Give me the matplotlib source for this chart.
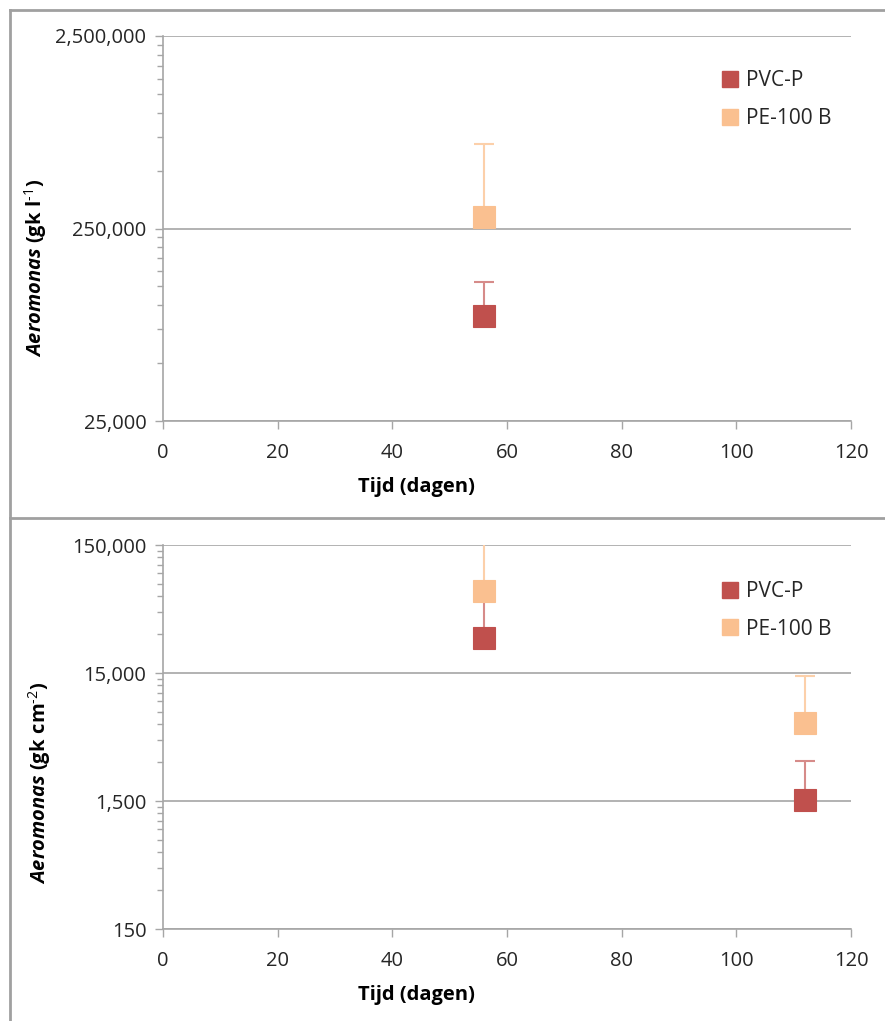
import matplotlib
matplotlib.use("Agg")
import matplotlib.pyplot as plt
from matplotlib.lines import Line2D
from matplotlib.ticker import FixedLocator, FuncFormatter, NullFormatter
import numpy as np

plt.rcParams['font.family'] = ['Open Sans', 'DejaVu Sans']
plt.rcParams['mathtext.fontset'] = 'custom'
plt.rcParams['mathtext.rm'] = 'Open Sans'
plt.rcParams['mathtext.it'] = 'Open Sans:italic'
plt.rcParams['mathtext.bf'] = 'Open Sans:bold'
plt.rcParams['mathtext.bfit'] = 'Open Sans:italic:bold'

# Aeromonas in water (gk/l), sampled at day 56
days_water = [56]
pvc_water = [88000]
pvc_water_err = [44000]
pe_water = [288000]
pe_water_err = [400000]

# Aeromonas in biofilm (gk/cm2), sampled at day 56 and 112
days_film = [56, 112]
pvc_film = [28000, 1520]
pvc_film_err = [34000, 1560]
pe_film = [65000, 6100]
pe_film_err = [135000, 8200]

x_ticks = [0, 20, 40, 60, 80, 100, 120]
water_ticks = [25000, 250000, 2500000]
film_ticks = [150, 1500, 15000, 150000]

RED = '#C0504D'
RED_ERR = '#D68B89'
ORANGE = '#FAC090'
ORANGE_ERR = '#FCD0AA'
GRID = '#A6A6A6'
FRAME = '#A0A0A0'
TXT = '#262626'

W, H = 885, 1021
fig = plt.figure(figsize=(W / 100, H / 100), dpi=100)


def px_axes(left, top, right, bottom):
    return fig.add_axes([left / W, 1 - bottom / H, (right - left) / W, (bottom - top) / H])


def style_axes(ax, majors):
    ax.set_yscale('log')
    ax.set_xlim(0, 120)
    ax.set_ylim(majors[0], majors[-1])
    ax.yaxis.set_major_locator(FixedLocator(majors))
    minors = [m * k for m in majors[:-1] for k in range(2, 10)]
    ax.yaxis.set_minor_locator(FixedLocator(minors))
    ax.yaxis.set_major_formatter(FuncFormatter(lambda v, p: f'{v:,.0f}'))
    ax.yaxis.set_minor_formatter(NullFormatter())
    ax.set_xticks(x_ticks)
    for s in ['top', 'right']:
        ax.spines[s].set_visible(False)
    for s in ['left', 'bottom']:
        ax.spines[s].set_color(GRID)
        ax.spines[s].set_linewidth(1.2)
    ax.grid(axis='y', which='major', color=GRID, linewidth=1.2)
    ax.set_axisbelow(True)
    ax.tick_params(axis='both', which='major', direction='out', length=6, width=1,
                   color=GRID, labelsize=14.5, labelcolor=TXT, pad=6)
    ax.tick_params(axis='y', which='minor', direction='out', length=4, width=1, color=GRID)
    ax.tick_params(axis='x', pad=10)


def draw_series(ax, x, y, err, color, err_color, label):
    ax.errorbar(x, y, yerr=[np.zeros(len(err)), err], fmt='none', ecolor=err_color,
                elinewidth=1.5, capsize=7, capthick=1.5, zorder=3)
    ax.plot(x, y, 's', color=color, markersize=16.5, markeredgecolor=color,
            markeredgewidth=0.8, linestyle='none', label=label, zorder=4)


def add_legend(ax, y_anchor):
    handles = [Line2D([], [], marker='s', color=RED, markersize=11, linestyle='none'),
               Line2D([], [], marker='s', color=ORANGE, markersize=11, linestyle='none')]
    ax.legend(handles, ['PVC-P', 'PE-100 B'], frameon=False, loc='upper left',
              bbox_to_anchor=(0.785, y_anchor), fontsize=15, handlelength=0.8,
              handletextpad=0.35, labelspacing=0.8, labelcolor=TXT)


# water panel
ax1 = px_axes(163, 36, 851, 421)
style_axes(ax1, water_ticks)
draw_series(ax1, days_water, pvc_water, pvc_water_err, RED, RED_ERR, 'PVC-P')
draw_series(ax1, days_water, pe_water, pe_water_err, ORANGE, ORANGE_ERR, 'PE-100 B')
add_legend(ax1, 0.96)

# biofilm panel
ax2 = px_axes(163, 545, 851, 929)
style_axes(ax2, film_ticks)
draw_series(ax2, days_film, pvc_film, pvc_film_err, RED, RED_ERR, 'PVC-P')
draw_series(ax2, days_film, pe_film, pe_film_err, ORANGE, ORANGE_ERR, 'PE-100 B')
add_legend(ax2, 0.955)

# axis titles
fig.text(416 / W, 1 - 487 / H, 'Tijd (dagen)', ha='center', va='center',
         fontsize=14.5, fontweight='bold')
fig.text(416 / W, 1 - 995 / H, 'Tijd (dagen)', ha='center', va='center',
         fontsize=14.5, fontweight='bold')
fig.text(36 / W, 1 - 268 / H, r'$\mathbfit{Aeromonas}$ $\mathbf{(gk\ l^{\text{-1}})}$',
         rotation=90, ha='center', va='center', fontsize=14.5)
fig.text(40 / W, 1 - 783 / H, r'$\mathbfit{Aeromonas}$ $\mathbf{(gk\ cm^{\text{-2}})}$',
         rotation=90, ha='center', va='center', fontsize=14.5)

# panel frames
for y0, y1 in [(10, 517), (518, 1030)]:
    fig.add_artist(Line2D([10 / W, 10 / W], [1 - y0 / H, 1 - y1 / H], color=FRAME, lw=2))
    fig.add_artist(Line2D([10 / W, 1.0], [1 - y0 / H, 1 - y0 / H], color=FRAME, lw=2))

fig.savefig('out.png', dpi=100)
